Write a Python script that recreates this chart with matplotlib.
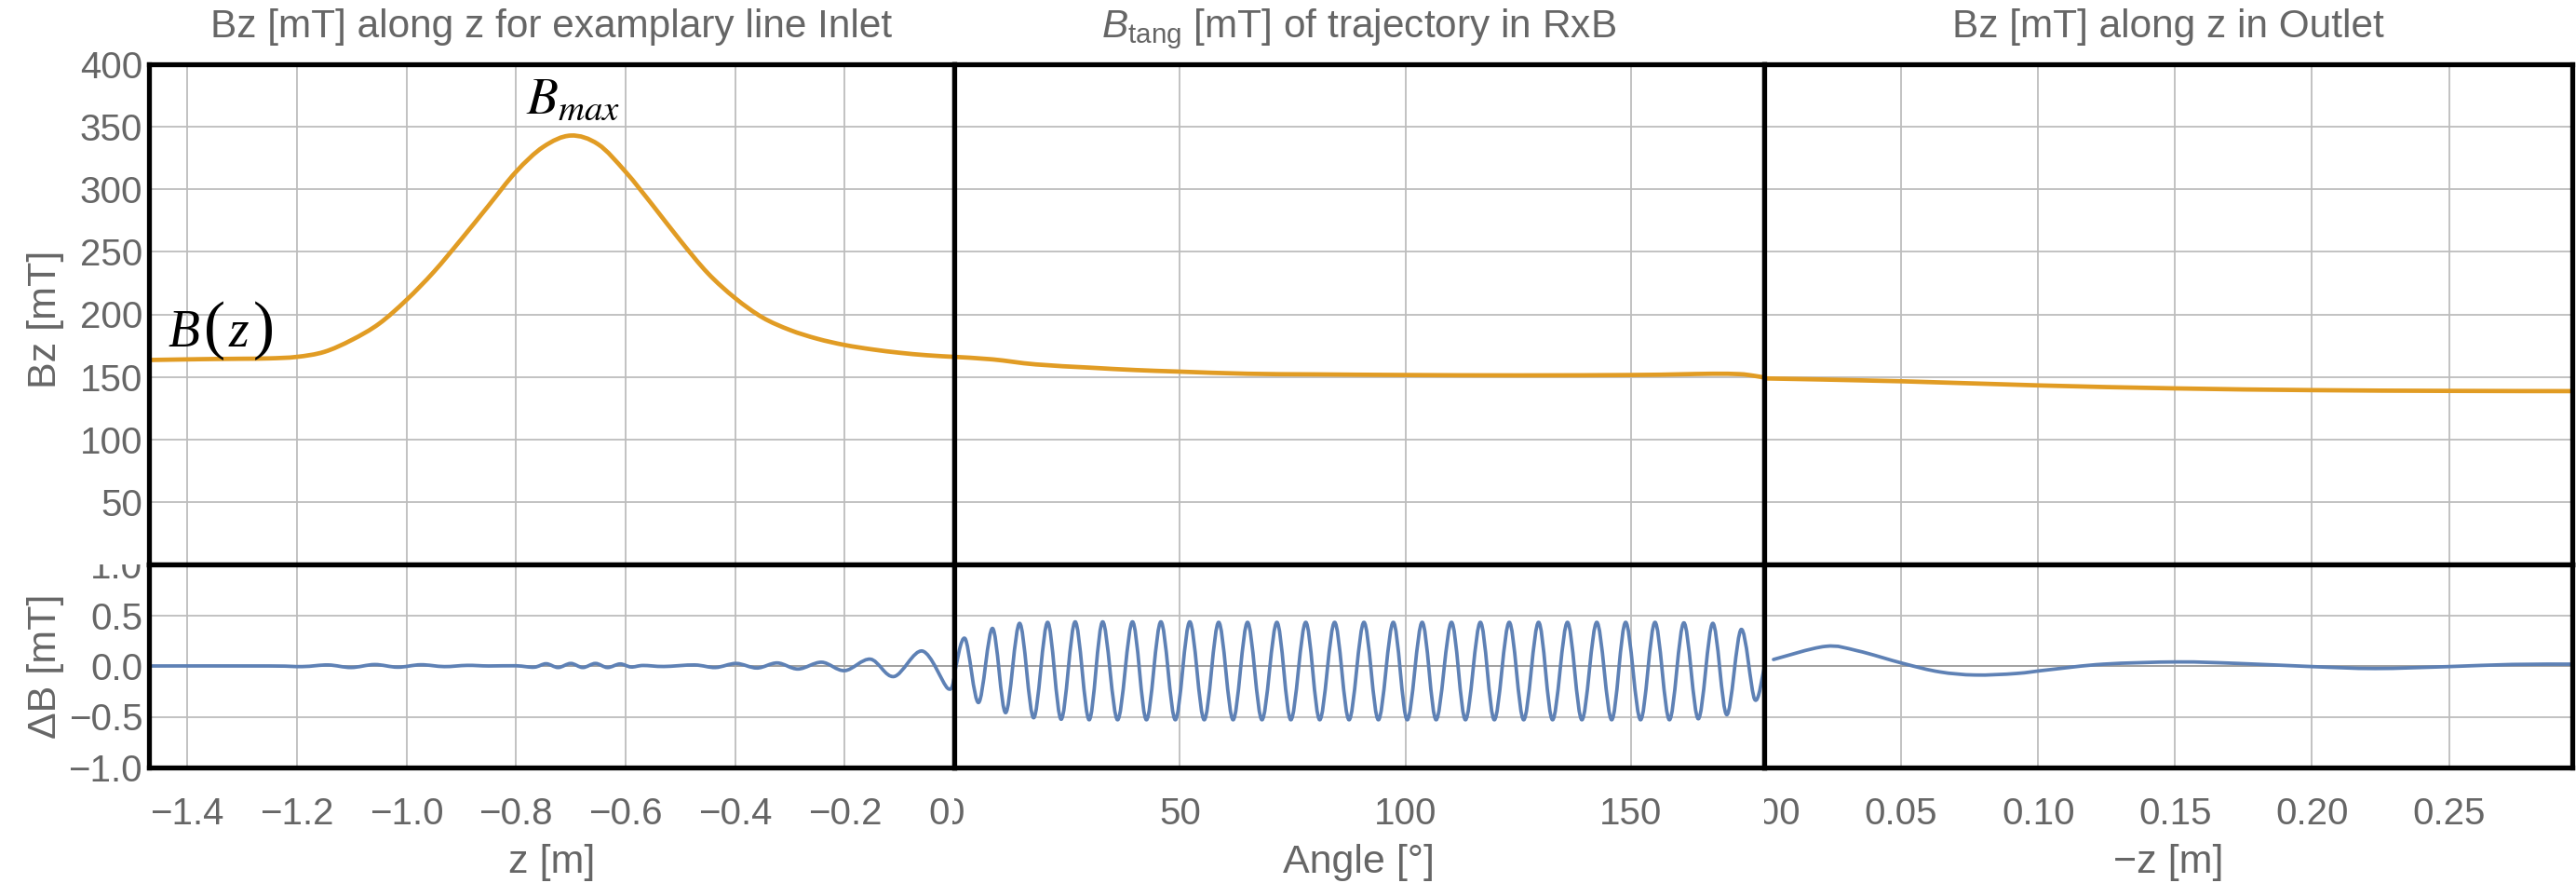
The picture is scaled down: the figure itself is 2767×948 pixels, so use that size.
import numpy as np
import matplotlib
matplotlib.use("Agg")
import matplotlib.pyplot as plt
from matplotlib.path import Path
from matplotlib.patches import PathPatch
from matplotlib.transforms import Bbox, TransformedBbox
from matplotlib.offsetbox import TextArea, HPacker, AnnotationBbox

# ---------------- data ----------------
inlet_z = [-1.47, -1.40, -1.35, -1.30, -1.25, -1.20, -1.15, -1.10, -1.05, -1.00,
           -0.95, -0.90, -0.85, -0.80, -0.75, -0.70, -0.65, -0.60, -0.55, -0.50,
           -0.45, -0.40, -0.35, -0.30, -0.25, -0.20, -0.15, -0.10, -0.05, 0.0]
inlet_B = [163.5, 164, 164.3, 164.5, 164.8, 166, 170, 179.5, 192.5, 211.5,
           234, 260, 287, 314, 334, 343, 336, 314, 287, 259,
           233, 213, 197.5, 187.5, 180.5, 175.5, 172, 169.3, 167.3, 166]

inlet_dz = [-1.47, -1.25, -1.19, -1.143, -1.101, -1.058, -1.016, -0.974, -0.931, -0.889,
            -0.85, -0.80, -0.767, -0.745, -0.723, -0.70, -0.678, -0.655, -0.633, -0.61,
            -0.59, -0.568, -0.53, -0.474, -0.436, -0.398, -0.360, -0.323, -0.285, -0.242,
            -0.200, -0.153, -0.110, -0.058, -0.012, 0.0]
inlet_dB = [0.0, 0.0, -0.006, 0.010, -0.015, 0.014, -0.012, 0.012, -0.006, 0.006,
            0.0, 0.002, -0.012, 0.022, -0.015, 0.025, -0.015, 0.025, -0.015, 0.02,
            -0.01, 0.005, -0.005, 0.01, -0.015, 0.025, -0.02, 0.03, -0.03, 0.037,
            -0.046, 0.067, -0.104, 0.147, -0.22, -0.12]

rxb_B_angle = [0, 8.5, 18, 30, 40, 50, 65, 80, 100, 125, 150, 160, 168, 174, 177, 179.5]
rxb_B = [166, 164, 160, 157.4, 155.5, 154.2, 152.5, 152, 151.5, 151.2, 151.5, 152, 152.5, 152.2, 151, 149.5]

rxb_dB_angle = [0.0, 2.4, 5.4, 8.5, 11.4, 14.5, 17.6, 20.7, 23.7, 26.8,
                29.9, 32.9, 36.2, 39.5, 42.6, 45.8, 49.0, 52.2, 55.4, 58.6,
                61.8, 65.0, 68.2, 71.5, 74.6, 77.9, 81.0, 84.3, 87.5, 90.8,
                94.0, 97.3, 100.4, 103.7, 106.8, 110.2, 113.3, 116.6, 119.7, 123.0,
                126.2, 129.5, 132.6, 135.9, 139.1, 142.4, 145.7, 148.8, 152.1, 155.3,
                158.5, 161.7, 164.9, 168.1, 171.2, 174.4, 177.4, 179.5]
rxb_dB = [-0.08, 0.27, -0.36, 0.37, -0.46, 0.42, -0.51, 0.43, -0.525, 0.435,
          -0.53, 0.435, -0.53, 0.435, -0.53, 0.435, -0.53, 0.435, -0.53, 0.43,
          -0.53, 0.43, -0.53, 0.43, -0.53, 0.43, -0.53, 0.43, -0.53, 0.43,
          -0.53, 0.43, -0.53, 0.43, -0.53, 0.43, -0.53, 0.43, -0.53, 0.43,
          -0.53, 0.43, -0.53, 0.43, -0.53, 0.43, -0.53, 0.43, -0.53, 0.43,
          -0.53, 0.425, -0.52, 0.42, -0.48, 0.36, -0.33, -0.02]

outlet_z = [0.0, 0.05, 0.10, 0.15, 0.20, 0.25, 0.295]
outlet_B = [148.8, 146.5, 143.2, 140.8, 139.4, 138.8, 138.6]

outlet_dz = [0.0034, 0.0223, 0.034, 0.0507, 0.064, 0.077, 0.092, 0.104, 0.124, 0.151,
             0.173, 0.20, 0.223, 0.25, 0.273, 0.295]
outlet_dB = [0.064, 0.193, 0.150, 0.025, -0.058, -0.089, -0.074, -0.037, 0.018, 0.04,
             0.025, -0.006, -0.025, -0.006, 0.015, 0.018]

titles = ["Bz [mT] along z for examplary line Inlet",
          r"$B_{\mathrm{tang}}$ [mT] of trajectory in RxB",
          "Bz [mT] along z in Outlet"]
xlabels = ["z [m]", "Angle [°]", "\u2212z [m]"]
ylabel_top = "Bz [mT]"
ylabel_bot = "\u0394B [mT]"

x_ticks = [[-1.4, -1.2, -1.0, -0.8, -0.6, -0.4, -0.2, 0.0],
           [0, 50, 100, 150],
           [0.0, 0.05, 0.10, 0.15, 0.20, 0.25]]
x_fmt = ["{:.1f}", "{:.0f}", "{:.2f}"]
x_lims = [(-1.47, 0.0), (0.0, 179.5), (0.0, 0.295)]
y_ticks_top = [50, 100, 150, 200, 250, 300, 350, 400]
y_ticks_bot = [-1.0, -0.5, 0.0, 0.5, 1.0]

# ---------------- style ----------------
plt.rcParams['font.family'] = ['Liberation Sans', 'DejaVu Sans']
plt.rcParams['mathtext.fontset'] = 'custom'
plt.rcParams['mathtext.rm'] = 'Liberation Sans'
plt.rcParams['mathtext.it'] = 'Liberation Sans:italic'
plt.rcParams['mathtext.bf'] = 'Liberation Sans:bold'

GRAY = '#666666'
GRID = '#bdbdbd'
ORANGE = '#E19C24'
BLUE = '#5E81B5'
TICK_FS = 29
TITLE_FS = 30.5
LABEL_FS = 31

W, H = 2767, 948
fig = plt.figure(figsize=(W / 100, H / 100), dpi=100)
fig.patch.set_facecolor('white')

# pixel geometry of the panels
xs = [160, 1025, 1895, 2763]
y_top, y_mid, y_bot = 69, 606, 824


def fbox(x0, x1, y0, y1):
    return [x0 / W, 1 - y1 / H, (x1 - x0) / W, (y1 - y0) / H]


def smooth_path(x, y):
    x = np.asarray(x, float)
    y = np.asarray(y, float)
    n = len(x)
    verts = [(x[0], y[0])]
    codes = [Path.MOVETO]
    for i in range(n - 1):
        i0 = max(i - 1, 0)
        i3 = min(i + 2, n - 1)
        c1 = (x[i] + (x[i + 1] - x[i0]) / 6, y[i] + (y[i + 1] - y[i0]) / 6)
        c2 = (x[i + 1] - (x[i3] - x[i]) / 6, y[i + 1] - (y[i3] - y[i]) / 6)
        verts += [c1, c2, (x[i + 1], y[i + 1])]
        codes += [Path.CURVE4] * 3
    return Path(verts, codes)


def draw_curve(ax, x, y, color, lw):
    patch = PathPatch(smooth_path(x, y), facecolor='none', edgecolor=color,
                      lw=lw, zorder=3, capstyle='round', joinstyle='round')
    ax.add_patch(patch)


top_axes, bot_axes = [], []
for i in range(3):
    at = fig.add_axes(fbox(xs[i], xs[i + 1], y_top, y_mid))
    ab = fig.add_axes(fbox(xs[i], xs[i + 1], y_mid, y_bot))
    top_axes.append(at)
    bot_axes.append(ab)
    for ax in (at, ab):
        ax.set_xlim(*x_lims[i])
        ax.set_xticks(x_ticks[i])
        ax.grid(True, color=GRID, lw=1.3, zorder=0)
        ax.set_axisbelow(True)
        for sp in ax.spines.values():
            sp.set_linewidth(3.8)
            sp.set_color('black')
            sp.set_zorder(5)
        ax.tick_params(length=0, colors=GRAY, labelsize=TICK_FS, pad=5)
    at.set_ylim(0, 400)
    at.set_yticks(y_ticks_top)
    ab.set_ylim(-1.0, 1.0)
    ab.set_yticks(y_ticks_bot)
    ab.axhline(0, color='#a2a2a2', lw=1.4, zorder=1)
    at.tick_params(labelbottom=False)
    ab.set_xticklabels([x_fmt[i].format(v).replace('-', '\u2212') for v in x_ticks[i]])
    ab.tick_params(axis='x', pad=22)
    if i > 0:
        at.tick_params(labelleft=False)
        ab.tick_params(labelleft=False)
    at.set_title(titles[i], fontsize=TITLE_FS, color=GRAY, pad=21)
    ab.set_xlabel(xlabels[i], fontsize=LABEL_FS, color=GRAY)
    ab.xaxis.set_label_coords(0.5, -0.376)

# curves
draw_curve(top_axes[0], inlet_z, inlet_B, ORANGE, 3.4)
draw_curve(bot_axes[0], inlet_dz, inlet_dB, BLUE, 2.7)
draw_curve(top_axes[1], rxb_B_angle, rxb_B, ORANGE, 3.4)
draw_curve(bot_axes[1], rxb_dB_angle, rxb_dB, BLUE, 2.7)
draw_curve(top_axes[2], outlet_z, outlet_B, ORANGE, 3.4)
draw_curve(bot_axes[2], outlet_dz, outlet_dB, BLUE, 2.7)

# y labels
top_axes[0].set_ylabel(ylabel_top, fontsize=LABEL_FS, color=GRAY)
top_axes[0].yaxis.set_label_coords(-0.105, 0.49)
bot_axes[0].set_ylabel(ylabel_bot, fontsize=LABEL_FS, color=GRAY)
bot_axes[0].yaxis.set_label_coords(-0.105, 0.5)

# annotations
serif_it = dict(fontsize=40, fontfamily='Liberation Serif', fontstyle='italic', color='black')
serif_par = dict(fontsize=50, fontfamily='Liberation Serif', color='black')
bz_box = HPacker(children=[TextArea("B", textprops=serif_it),
                           TextArea("(", textprops=serif_par),
                           TextArea("z", textprops=serif_it),
                           TextArea(")", textprops=serif_par)],
                 align="baseline", pad=0, sep=3)
top_axes[0].add_artist(AnnotationBbox(bz_box, (-1.435, 187), xycoords='data',
                                      frameon=False, box_alignment=(0, 0.5), pad=0,
                                      annotation_clip=False, zorder=6))
top_axes[0].text(-0.782, 361, r"$B_{max}$", fontsize=40, color='black',
                 math_fontfamily='stix', ha='left', va='baseline', zorder=6)

# clip tick labels at panel borders (as in the reference)
fig.canvas.draw()
for i, ab in enumerate(bot_axes):
    clip = TransformedBbox(Bbox([[xs[i] / W, 0], [xs[i + 1] / W, 1]]), fig.transFigure)
    for t in ab.xaxis.get_major_ticks():
        t.label1.set_clip_box(clip)
        t.label1.set_clip_on(True)
clip_y = TransformedBbox(Bbox([[0, 0], [1, 1 - y_mid / H]]), fig.transFigure)
for t in bot_axes[0].yaxis.get_major_ticks():
    t.label1.set_clip_box(clip_y)
    t.label1.set_clip_on(True)

fig.savefig("out.png", dpi=100, facecolor='white')
